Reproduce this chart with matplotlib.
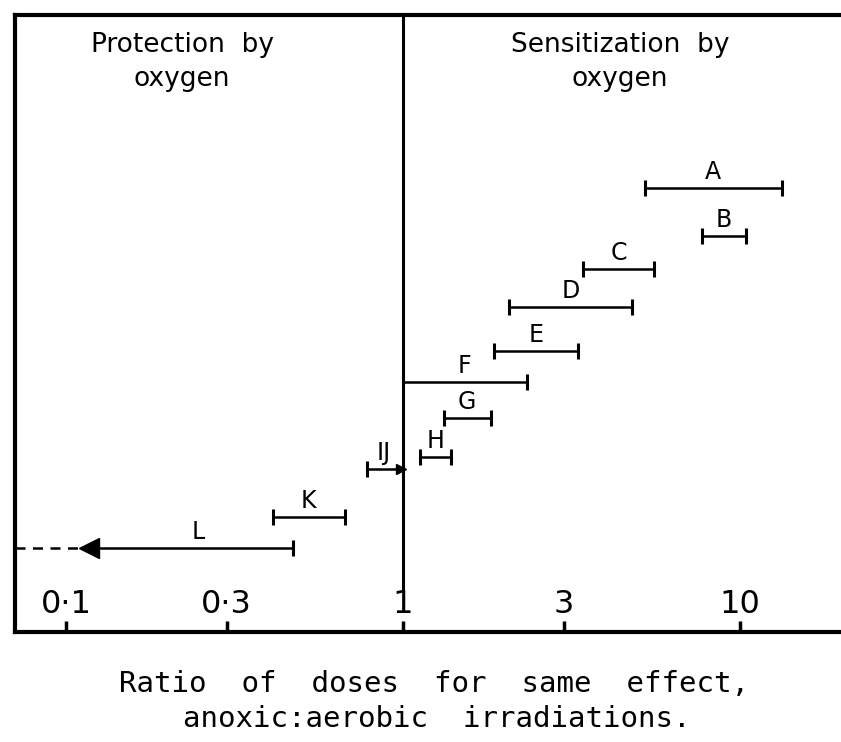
import matplotlib
matplotlib.use("Agg")
import matplotlib.pyplot as plt
import matplotlib.transforms as mtransforms
import numpy as np

# ---- data ----
labels = ["A", "B", "C", "D", "E", "F", "G", "H", "IJ", "K", "L"]
low = [5.23, 7.71, 3.42, 2.06, 1.86, 1.0, 1.32, 1.12, 0.78, 0.411, 0.123]
high = [13.3, 10.4, 5.56, 4.78, 3.31, 2.33, 1.82, 1.39, 0.99, 0.672, 0.472]
rows = [28.0, 35.8, 41.2, 47.3, 54.5, 59.5, 65.3, 71.6, 73.6, 81.4, 86.4]
L_tip = 0.111
tick_values = [0.1, 0.3, 1, 3, 10]
tick_labels = ["0·1", "0·3", "1", "3", "10"]

plt.rcParams['font.family'] = ['DejaVu Sans']

W, H = 841, 742
fig = plt.figure(figsize=(W / 100, H / 100), dpi=100)
ax = fig.add_axes([15 / W, (H - 632) / H, 1 - 15 / W, (632 - 15) / H])
ax.set_xscale('log')
ax.set_xlim(0.0706, 19.95)
ax.set_ylim(100, 0)

lw = 1.8
for lab, lo, hi, y in zip(labels, low, high, rows):
    ax.plot([lo, hi], [y, y], color='black', lw=lw, solid_capstyle='butt')
    if lab in ("L", "F"):
        ends = [hi]
    elif lab == "IJ":
        ends = [lo]
    else:
        ends = [lo, hi]
    ax.plot(ends, [y] * len(ends), ls='none', marker='|', ms=11.5, mew=2.2, color='black')
    xc = np.sqrt(lo * hi)
    if lab == "L":
        xc = np.sqrt(L_tip * hi) * 1.08
    ax.annotate(lab, (xc, y), xytext=(0, 3), textcoords='offset points',
                ha='center', va='bottom', fontsize=17)

# IJ filled end at unity line
iy = rows[labels.index("IJ")]
ax.plot([0.985], [iy], marker='>', ms=7, color='black', ls='none')

# L arrow: filled head and dashed continuation
ly = rows[labels.index("L")]
ax.plot([np.sqrt(L_tip * low[-1])], [ly], marker='<', ms=15, color='black', ls='none')
ax.plot([0.0706, L_tip], [ly, ly], color='black', lw=lw, ls=(0, (4, 3)))

# unity line
ax.plot([1, 1], [0, 92.9], color='black', lw=2.2)

# spines / ticks
for s in ['left', 'top', 'bottom']:
    ax.spines[s].set_linewidth(3)
ax.spines['right'].set_visible(False)
ax.set_yticks([])
ax.set_xticks(tick_values)
ax.set_xticklabels([])
ax.xaxis.set_minor_locator(matplotlib.ticker.NullLocator())
ax.tick_params(axis='x', direction='in', length=8, width=2.5)
trans = mtransforms.blended_transform_factory(ax.transData, ax.transAxes)
for v, t in zip(tick_values, tick_labels):
    ax.text(v, 0.044, t, transform=trans, ha='center', va='center', fontsize=23)

# headers
ax.text(0.221, 0.924, "Protection  by\noxygen", ha='center', va='center', fontsize=19,
        linespacing=1.4, transform=trans)
ax.text(4.4, 0.924, "Sensitization  by\noxygen", ha='center', va='center', fontsize=19,
        linespacing=1.4, transform=trans)

fig.text(434 / W, 1 - 684 / H, "Ratio  of  doses  for  same  effect,", ha='center',
         va='center', fontsize=21, family='DejaVu Sans Mono')
fig.text(437 / W, 1 - 719 / H, "anoxic:aerobic  irradiations.", ha='center',
         va='center', fontsize=21, family='DejaVu Sans Mono')

fig.savefig("out.png", dpi=100)
